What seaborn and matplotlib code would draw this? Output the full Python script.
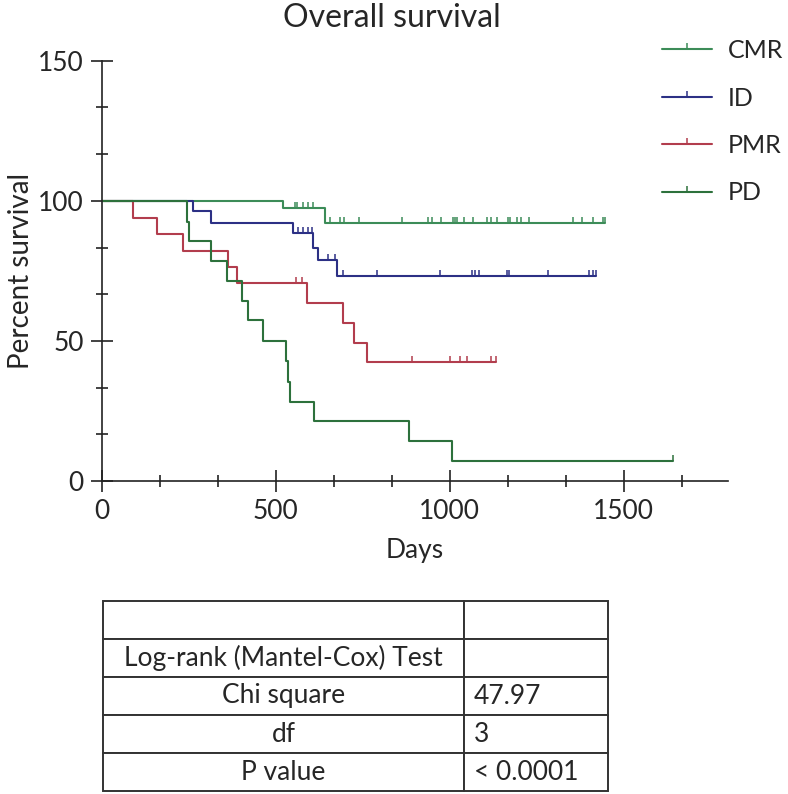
import numpy as np
import pandas as pd
import seaborn as sns
import matplotlib.pyplot as plt
from matplotlib.lines import Line2D
from matplotlib.ticker import MultipleLocator

# Kaplan-Meier steps (days, percent survival)
groups = ["CMR", "ID", "PMR", "PD"]
palette = {"CMR": "#3c8c58", "ID": "#2c3085", "PMR": "#b23d4d", "PD": "#2d713c"}

cmr_event_days = [521, 643]
cmr_surv = [97.4, 92.1]
cmr_censor_days = [555, 561, 578, 593, 607, 656, 684, 696, 739, 862, 937, 949, 975,
                   1009, 1015, 1021, 1041, 1067, 1107, 1119, 1136, 1167, 1173, 1193,
                   1205, 1228, 1354, 1380, 1411, 1440, 1446]
cmr_last_day = 1446

id_event_days = [261, 313, 550, 607, 621, 675]
id_surv = [96.2, 92.0, 88.6, 83.2, 78.9, 73.2]
id_censor_days = [564, 578, 593, 604, 650, 670, 693, 791, 972, 1064, 1072, 1084,
                  1164, 1170, 1282, 1400, 1411, 1421]
id_last_day = 1421

pmr_event_days = [89, 158, 233, 364, 388, 589, 694, 725, 763]
pmr_surv = [94.0, 88.2, 82.2, 76.3, 70.6, 63.7, 56.5, 49.4, 42.3]
pmr_censor_days = [557, 576, 891, 1002, 1029, 1051, 1120, 1132]
pmr_last_day = 1132

pd_event_days = [244, 252, 313, 359, 402, 419, 464, 529, 536, 541, 610, 883, 1008]
pd_surv = [92.6, 85.5, 78.6, 71.5, 64.4, 57.3, 50.0, 42.9, 35.5, 28.3, 21.4, 14.4, 7.3]
pd_censor_days = [1641]
pd_last_day = 1641

table_rows = [
    ["", ""],
    ["Log-rank (Mantel-Cox) Test", ""],
    ["Chi square", "47.97"],
    ["df", "3"],
    ["P value", "< 0.0001"],
]

curves = {
    "CMR": (cmr_event_days, cmr_surv, cmr_censor_days, cmr_last_day),
    "ID": (id_event_days, id_surv, id_censor_days, id_last_day),
    "PMR": (pmr_event_days, pmr_surv, pmr_censor_days, pmr_last_day),
    "PD": (pd_event_days, pd_surv, pd_censor_days, pd_last_day),
}

step_frames = []
censor_frames = []
for g in groups:
    ev, sv, cens, last = curves[g]
    t = np.array([0] + ev + [last])
    s = np.array([100.0] + sv + [sv[-1]])
    step_frames.append(pd.DataFrame({"days": t, "surv": s, "group": g}))
    idx = np.searchsorted(t[:-1], np.array(cens), side="right") - 1
    censor_frames.append(pd.DataFrame({"days": cens, "surv": s[idx], "group": g}))
steps = pd.concat(step_frames, ignore_index=True)
censors = pd.concat(censor_frames, ignore_index=True)

sns.set_style("ticks")
plt.rcParams["font.family"] = ["Lato", "DejaVu Sans"]

fig = plt.figure(figsize=(7.88, 7.94), dpi=100)
ax = fig.add_axes([0.1291, 0.3942, 0.7948, 0.5293])

sns.lineplot(data=steps, x="days", y="surv", hue="group", palette=palette,
             estimator=None, sort=False, drawstyle="steps-post", linewidth=1.5,
             legend=False, ax=ax)
for g in groups:
    sub = censors[censors.group == g]
    ax.plot(sub.days, sub.surv, ls="none", marker=2, markersize=4,
            markeredgewidth=1.1, color=palette[g])

ax.set_xlim(0, 1800)
ax.set_ylim(0, 150)
ax.xaxis.set_major_locator(MultipleLocator(500))
ax.xaxis.set_minor_locator(MultipleLocator(500 / 3))
ax.yaxis.set_major_locator(MultipleLocator(50))
ax.yaxis.set_minor_locator(MultipleLocator(50 / 3))
ax.tick_params(which="major", direction="inout", length=16, width=1.2,
               labelsize=19, color="#222222", pad=5)
ax.tick_params(which="minor", direction="inout", length=8, width=1.2,
               color="#222222")
sns.despine(ax=ax)
for sp in ["left", "bottom"]:
    ax.spines[sp].set_linewidth(1.2)
    ax.spines[sp].set_color("#222222")

ax.set_xlabel("Days", fontsize=19, labelpad=10)
ax.set_ylabel("Percent survival", fontsize=20, labelpad=3)
ax.set_title("Overall survival", fontsize=23, x=0.4635, pad=24)

handles = [Line2D([0], [0], color=palette[g], lw=1.5, marker=2, markersize=4,
                  markeredgewidth=1.1) for g in groups]
fig.legend(handles, groups, loc="upper left", bbox_to_anchor=(662 / 788, 1 - 39 / 794),
           frameon=False, fontsize=18, handlelength=2.0, handletextpad=0.65,
           labelspacing=0.98, numpoints=1, borderpad=0, borderaxespad=0)

# statistics table under the plot
tax = fig.add_axes([103.3 / 788, 3 / 794, 504.4 / 788, 190 / 794])
tax.axis("off")
tbl = tax.table(cellText=table_rows, colWidths=[0.715, 0.285], bbox=[0, 0, 1, 1],
                cellLoc="center")
tbl.auto_set_font_size(False)
tbl.set_fontsize(19)
for (r, c), cell in tbl.get_celld().items():
    cell.set_edgecolor("#333333")
    cell.set_linewidth(1.4)
    if c == 1:
        cell._loc = "left"
        cell.PAD = 0.07
        cell.get_text().set_ha("left")

fig.savefig("out.png", dpi=100)
